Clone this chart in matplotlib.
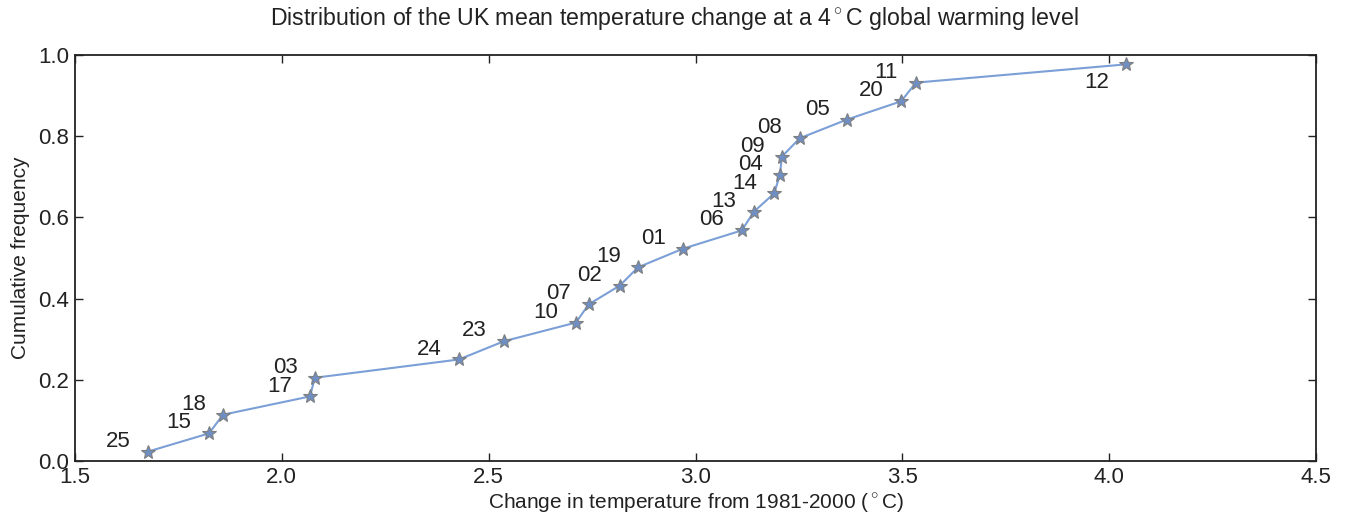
import matplotlib
matplotlib.use("Agg")
import matplotlib.pyplot as plt

plt.rcParams['font.family'] = ['Liberation Sans', 'DejaVu Sans']
plt.rcParams['mathtext.fontset'] = 'custom'
plt.rcParams['mathtext.rm'] = 'Liberation Sans'

# ensemble member ids, sorted by warming
members = ["25", "15", "18", "17", "03", "24", "23", "10", "07", "02", "19",
           "01", "06", "13", "14", "04", "09", "08", "05", "20", "11", "12"]
# UK mean temperature change (degC) relative to 1981-2000
temp_change = [1.676, 1.824, 1.858, 2.068, 2.080, 2.428, 2.537, 2.711, 2.742,
               2.817, 2.861, 2.970, 3.112, 3.141, 3.190, 3.204, 3.209, 3.252,
               3.366, 3.497, 3.533, 4.041]
# cumulative frequency of each member
cum_freq = [0.023, 0.068, 0.114, 0.159, 0.205, 0.250, 0.295, 0.341, 0.386,
            0.432, 0.477, 0.523, 0.568, 0.614, 0.659, 0.705, 0.750, 0.795,
            0.841, 0.886, 0.932, 0.977]

x_ticks = [1.5, 2.0, 2.5, 3.0, 3.5, 4.0, 4.5]
y_ticks = [0.0, 0.2, 0.4, 0.6, 0.8, 1.0]

fig = plt.figure(figsize=(13.48, 5.26), dpi=100)
ax = fig.add_axes([0.0556, 0.1236, 0.9207, 0.7718])

ax.plot(temp_change, cum_freq, color='#7b9fd6', lw=1.5, marker='*',
        markersize=10, markerfacecolor='#6f8fc4', markeredgecolor='#7f7f7f',
        markeredgewidth=0.8)

for name, xv, yv in zip(members, temp_change, cum_freq):
    dy = -13 if name == "12" else 7.5
    ax.annotate(name, (xv, yv), xytext=(-21.5, dy), textcoords='offset points',
                ha='center', va='center', fontsize=16, color='#222222')

ax.set_xlim(1.5, 4.5)
ax.set_ylim(0.0, 1.0)
ax.set_xticks(x_ticks)
ax.set_yticks(y_ticks)
ax.set_xticklabels([f"{v:.1f}" for v in x_ticks])
ax.set_yticklabels([f"{v:.1f}" for v in y_ticks])
ax.tick_params(direction='in', length=6, width=1, top=True, right=True,
               labelsize=16, colors='#222222', pad=4)
for s in ax.spines.values():
    s.set_linewidth(1.3)
    s.set_color('#222222')

ax.set_xlabel("Change in temperature from 1981-2000 ($^\\circ$C)", fontsize=15,
              color='#222222', labelpad=3)
ax.set_ylabel("Cumulative frequency", fontsize=15, color='#222222', labelpad=6)
fig.text(0.5, 1 - 18 / 526,
         "Distribution of the UK mean temperature change at a 4$^\\circ$C global warming level",
         ha='center', va='center', fontsize=16.7, color='#222222')

fig.savefig("out.png", dpi=100)
